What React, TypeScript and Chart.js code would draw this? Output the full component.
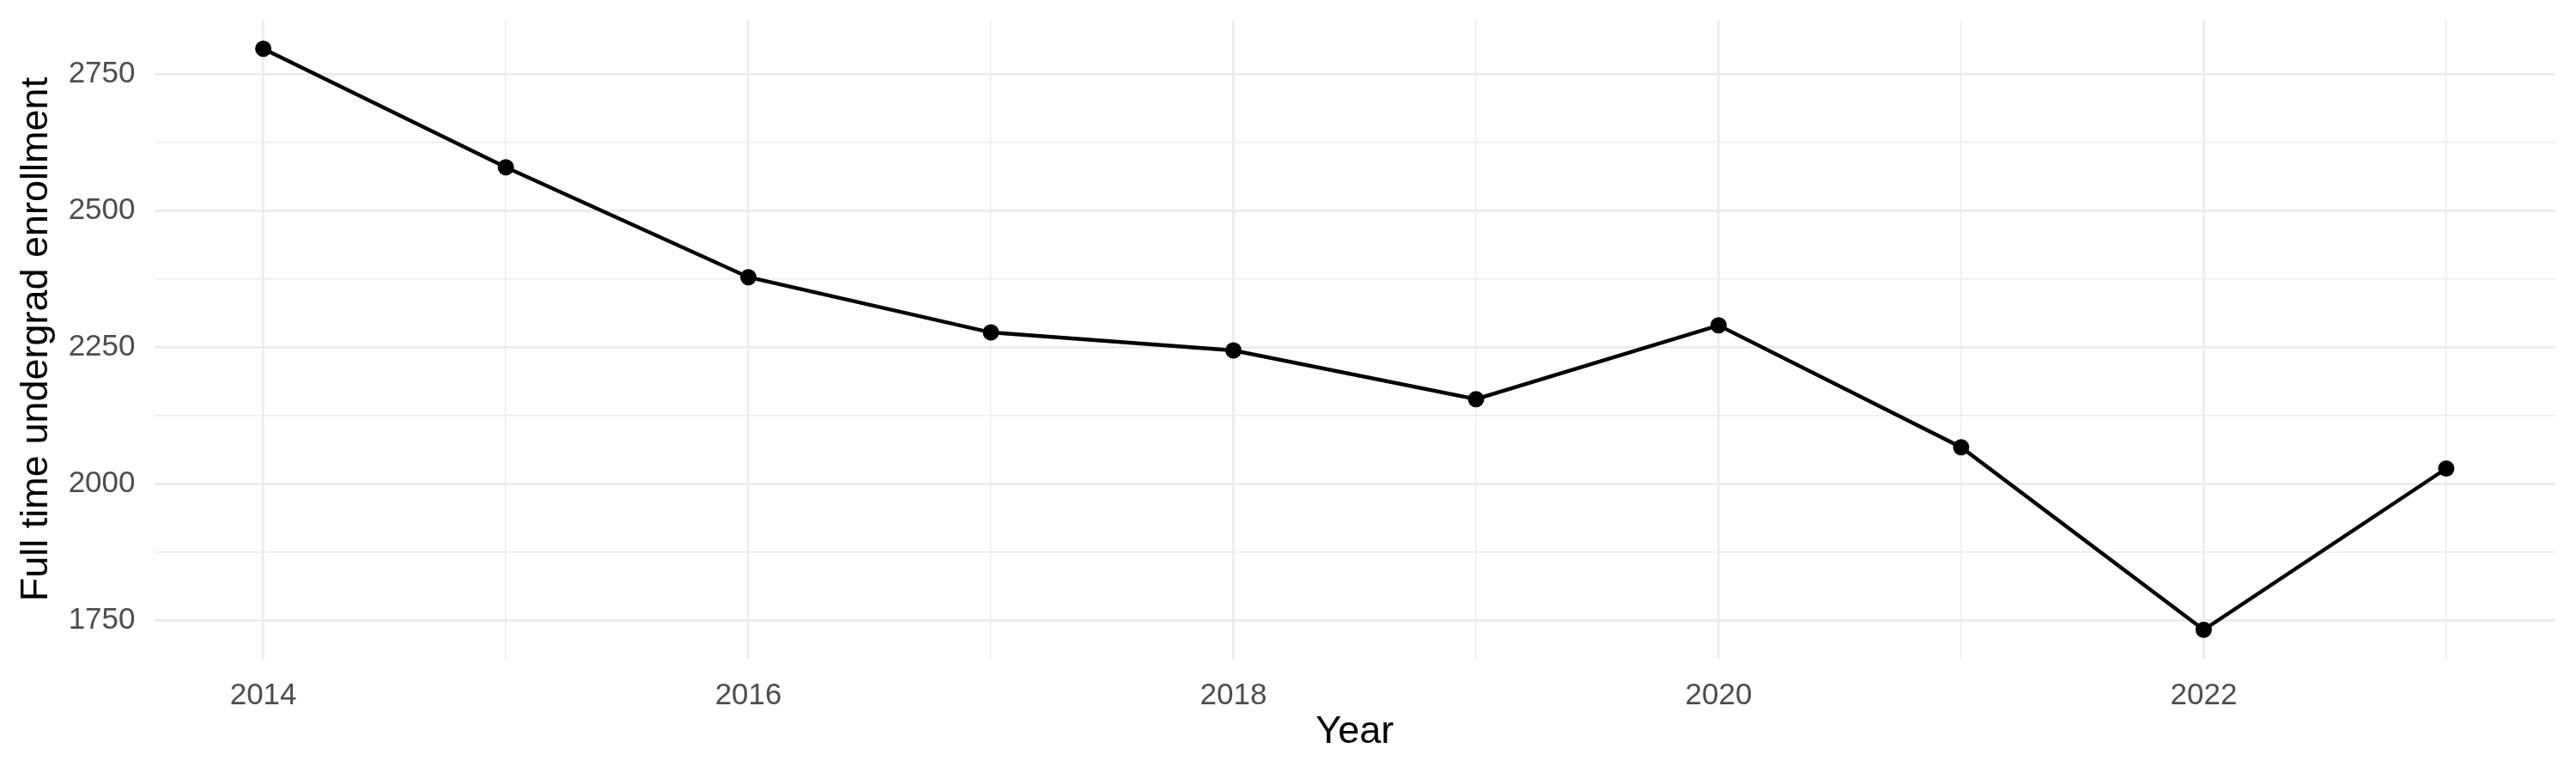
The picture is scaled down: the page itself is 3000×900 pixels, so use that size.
import { useEffect, useRef } from "react"
import { Chart, registerables } from "chart.js"

Chart.register(...registerables)

const years = [2014, 2015, 2016, 2017, 2018, 2019, 2020, 2021, 2022, 2023]
const enrollment = [2796, 2579, 2378, 2277, 2244, 2155, 2290, 2067, 1733, 2028]

// grid breaks (major ones get a label, minor ones only a thin line)
const xBreaks = [2014, 2015, 2016, 2017, 2018, 2019, 2020, 2021, 2022, 2023]
const xLabelled = [2014, 2016, 2018, 2020, 2022]
const yBreaks = [1750, 1875, 2000, 2125, 2250, 2375, 2500, 2625, 2750]
const yLabelled = [1750, 2000, 2250, 2500, 2750]

const FONT = "'Liberation Sans', Arial, Helvetica, sans-serif"
const GRID = "#ebebeb"

export default function App() {
  const chartRef = useRef<HTMLCanvasElement>(null)
  const chartInstance = useRef<Chart | null>(null)

  useEffect(() => {
    document.body.style.margin = "0"
    if (!chartRef.current) return
    if (chartInstance.current) chartInstance.current.destroy()

    const ctx = chartRef.current.getContext("2d")
    if (!ctx) return

    chartInstance.current = new Chart(ctx, {
      type: "line",
      data: {
        datasets: [
          {
            data: years.map((y, i) => ({ x: y, y: enrollment[i] })),
            borderColor: "#000000",
            backgroundColor: "#000000",
            borderWidth: 4.4,
            pointRadius: 9.5,
            pointBorderWidth: 0,
            pointBackgroundColor: "#000000",
            tension: 0,
          },
        ],
      },
      options: {
        responsive: false,
        devicePixelRatio: 1,
        animation: false,
        layout: { padding: { left: 16, right: 24, top: 23, bottom: 0 } },
        plugins: {
          legend: { display: false },
          tooltip: { enabled: false },
        },
        scales: {
          x: {
            type: "linear",
            min: 2013.55,
            max: 2023.45,
            afterBuildTicks: (scale) => {
              scale.ticks = xBreaks.map((v) => ({ value: v }))
            },
            // fix the axis box so the panel lands where ggplot put it
            afterFit: (scale) => {
              scale.height = 133
              scale.paddingLeft = 0
              scale.paddingRight = 0
            },
            border: { display: false },
            grid: {
              color: GRID,
              drawTicks: false,
              lineWidth: (c) => (xLabelled.includes(c.tick?.value) ? 2.7 : 1.4),
            },
            ticks: {
              autoSkip: false,
              maxRotation: 0,
              padding: 22,
              color: "#4d4d4d",
              font: { family: FONT, size: 35 },
              callback: (v) => (xLabelled.includes(Number(v)) ? String(v) : ""),
            },
            title: {
              display: true,
              text: "Year",
              color: "#000000",
              font: { family: FONT, size: 45 },
              padding: { top: 0, bottom: 20 },
            },
          },
          y: {
            type: "linear",
            min: 1680,
            max: 2849,
            afterBuildTicks: (scale) => {
              scale.ticks = yBreaks.map((v) => ({ value: v }))
            },
            afterFit: (scale) => {
              scale.width = 163.5
              scale.paddingTop = 0
              scale.paddingBottom = 0
            },
            border: { display: false },
            grid: {
              color: GRID,
              drawTicks: false,
              lineWidth: (c) => (yLabelled.includes(c.tick?.value) ? 2.7 : 1.4),
            },
            ticks: {
              autoSkip: false,
              padding: 22,
              color: "#4d4d4d",
              font: { family: FONT, size: 35 },
              callback: (v) => (yLabelled.includes(Number(v)) ? String(v) : ""),
            },
            title: {
              display: true,
              text: "Full time undergrad enrollment",
              color: "#000000",
              font: { family: FONT, size: 45 },
              padding: { top: 0, bottom: 12 },
            },
          },
        },
      },
    })

    return () => {
      if (chartInstance.current) {
        chartInstance.current.destroy()
        chartInstance.current = null
      }
    }
  }, [])

  return (
    <div style={{ width: 3000, height: 900 }}>
      <canvas ref={chartRef} width={3000} height={900} />
    </div>
  )
}
